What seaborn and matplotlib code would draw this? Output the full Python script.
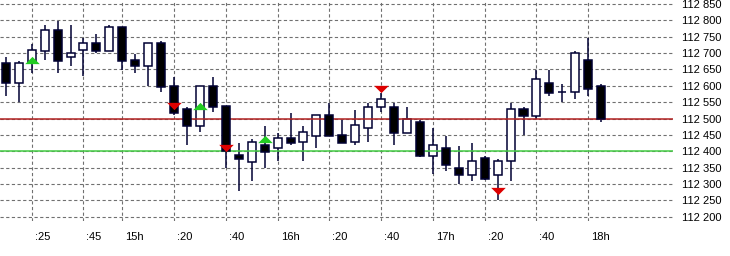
import numpy as np
import pandas as pd
import matplotlib
matplotlib.use("Agg")
import matplotlib.pyplot as plt
from matplotlib.markers import MarkerStyle
from matplotlib.transforms import ScaledTranslation
import seaborn as sns

# ---- data (5-minute candles starting 14:15) ----
opens = [112670, 112607, 112671, 112707, 112770, 112689, 112708, 112730, 112707, 112779,
         112678, 112659, 112730, 112599, 112529, 112478, 112599, 112538, 112388, 112368,
         112419, 112409, 112439, 112427, 112447, 112510, 112450, 112427, 112470, 112536,
         112536, 112457, 112488, 112387, 112411, 112349, 112328, 112379, 112328, 112369,
         112529, 112509, 112607, 112581, 112580, 112678, 112599]
highs = [112687, 112676, 112728, 112786, 112798, 112786, 112747, 112758, 112786, 112781,
         112697, 112730, 112736, 112628, 112534, 112599, 112628, 112538, 112424, 112436,
         112477, 112455, 112516, 112477, 112510, 112548, 112497, 112526, 112548, 112579,
         112548, 112536, 112495, 112470, 112447, 112417, 112424, 112385, 112375, 112546,
         112534, 112648, 112648, 112605, 112705, 112747, 112605]
lows = [112570, 112551, 112640, 112679, 112640, 112661, 112630, 112699, 112707, 112648,
        112640, 112599, 112582, 112511, 112419, 112460, 112520, 112350, 112279, 112310,
        112350, 112371, 112419, 112371, 112411, 112447, 112426, 112419, 112429, 112520,
        112419, 112457, 112381, 112332, 112341, 112300, 112310, 112312, 112251, 112310,
        112451, 112500, 112569, 112551, 112560, 112569, 112490]
closes = [112607, 112669, 112709, 112770, 112677, 112700, 112730, 112707, 112779, 112677,
          112659, 112730, 112597, 112518, 112478, 112599, 112536, 112402, 112377, 112427,
          112399, 112439, 112426, 112458, 112510, 112447, 112426, 112479, 112536, 112559,
          112457, 112498, 112386, 112418, 112359, 112328, 112369, 112315, 112369, 112528,
          112509, 112620, 112579, 112581, 112699, 112589, 112498]

buy_idx = [2, 15, 20]
buy_price = [112680, 112539, 112438]
sell_idx = [13, 17, 29, 38]
sell_price = [112537, 112411, 112590, 112278]

red_level = 112500
green_level = 112400

tick_idx = [2, 6, 9, 13, 17, 21, 25, 29, 33, 37, 41, 45]
tick_labels = [":25", ":45", "15h", ":20", ":40", "16h", ":20", ":40", "17h", ":20", ":40", "18h"]
y_ticks = list(range(112200, 112851, 50))

# ---- figure ----
sns.set_theme(style="white")
plt.rcParams["font.family"] = ["Liberation Sans", "DejaVu Sans"]

df = pd.DataFrame({"i": np.arange(len(opens)), "open": opens, "high": highs,
                   "low": lows, "close": closes})
df["up"] = df["close"] >= df["open"]

fig = plt.figure(figsize=(7.30, 2.56), dpi=100)
ax = fig.add_axes([0.0, 35 / 256, 673 / 730, 221 / 256])
ax.set_facecolor("white")

ax.set_xlim(-0.448, 51.55)
ax.set_ylim(112187, 112862)

dash = (0, (2.9, 2.2))
for y in y_ticks:
    ax.axhline(y, color="#707070", lw=0.8, ls=dash, zorder=0)
for t in tick_idx:
    ax.axvline(t, color="#707070", lw=0.8, ls=dash, zorder=0)

edge = "#000033"
w = 0.62
ax.vlines(df["i"], df["low"], df["high"], color=edge, lw=1.1, zorder=1)

up = df[df["up"]]
dn = df[~df["up"]]
ax.bar(up["i"], up["close"] - up["open"], bottom=up["open"], width=w,
       facecolor="white", edgecolor=edge, linewidth=1.1, zorder=2)

ax.axhline(red_level, color="#B22222", lw=1.1, zorder=3)
ax.axhline(green_level, color="#44CC44", lw=1.1, zorder=3)

ax.bar(dn["i"], dn["close"] - dn["open"], bottom=dn["open"], width=w,
       facecolor="black", edgecolor=edge, linewidth=1.1, zorder=4)

up_tri = MarkerStyle([(-1, -0.5), (1, -0.5), (0, 0.5)])
dn_tri = MarkerStyle([(-1, 0.5), (1, 0.5), (0, -0.5)])
sns.scatterplot(x=buy_idx, y=buy_price, marker=up_tri, s=110, color="#22CC22",
                linewidth=0, ax=ax, zorder=5)
sns.scatterplot(x=sell_idx, y=sell_price, marker=dn_tri, s=110, color="#DD0000",
                linewidth=0, ax=ax, zorder=5)

for s in ax.spines.values():
    s.set_visible(False)

ax.set_yticks(y_ticks)
ax.set_yticklabels([f"{v // 1000} {v % 1000:03d}" for v in y_ticks])
ax.yaxis.tick_right()
ax.tick_params(axis="y", length=0, pad=6.5, labelsize=8, labelcolor="black",
               labelright=True, labelleft=False)

ax.set_xticks(tick_idx)
ax.set_xticklabels(tick_labels)
ax.tick_params(axis="x", length=0, pad=8, labelsize=8, labelcolor="black")
off = ScaledTranslation(3 / 100, 0, fig.dpi_scale_trans)
for lab in ax.get_xticklabels():
    lab.set_horizontalalignment("left")
    lab.set_transform(lab.get_transform() + off)

ax.set_xlabel("")
ax.set_ylabel("")
ax.grid(False)

fig.savefig("out.png", dpi=100, facecolor="white")
